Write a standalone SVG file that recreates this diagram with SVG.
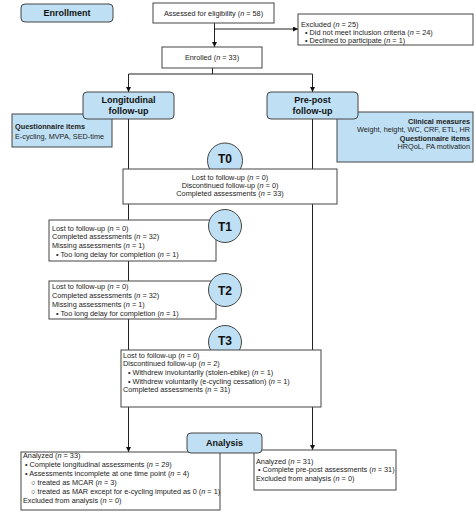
<svg xmlns="http://www.w3.org/2000/svg" width="476" height="515" viewBox="0 0 476 515">
<defs>
<style>
text{font-family:"Liberation Sans",Arial,sans-serif;font-size:7.3px;fill:#222}
.b{font-weight:bold}
.h{font-weight:bold;font-size:9px;fill:#111}
.t{font-weight:bold;font-size:12px;fill:#111}
.box{fill:#fff;stroke:#444;stroke-width:1}
.blue{fill:#bfe0f4;stroke:#444;stroke-width:1}
.ln{fill:none;stroke:#222;stroke-width:1}
.c{text-anchor:middle}
.r{text-anchor:end}
</style>
<marker id="ah" viewBox="0 0 8 8" refX="8" refY="4" markerWidth="5" markerHeight="5" orient="auto" markerUnits="userSpaceOnUse">
<path d="M0,0 L8,4 L0,8 z" fill="#111"/>
</marker>
</defs>
<rect width="476" height="515" fill="#fff"/>

<g id="connectors">
<line class="ln" x1="214.5" y1="23" x2="214.5" y2="47" marker-end="url(#ah)"/>
<line class="ln" x1="214.5" y1="29" x2="298" y2="29" marker-end="url(#ah)"/>
<line class="ln" x1="212.5" y1="68" x2="212.5" y2="74"/>
<line class="ln" x1="128.5" y1="74" x2="312.5" y2="74"/>
<line class="ln" x1="128.5" y1="74" x2="128.5" y2="92" marker-end="url(#ah)"/>
<line class="ln" x1="312.5" y1="74" x2="312.5" y2="92" marker-end="url(#ah)"/>
<line class="ln" x1="128.5" y1="119" x2="128.5" y2="452" marker-end="url(#ah)"/>
<line class="ln" x1="312.5" y1="119" x2="312.5" y2="450" marker-end="url(#ah)"/>
</g>

<g id="enrollment">
<rect class="blue" x="21" y="4" width="92" height="18" rx="4"/>
<text class="h c" x="67" y="16">Enrollment</text>
</g>

<g id="assessed">
<rect class="box" x="153" y="3" width="121" height="20"/>
<text class="c" x="213.5" y="15.5">Assessed for eligibility (<tspan font-style="italic">n</tspan> = 58)</text>
</g>

<g id="excluded">
<rect class="box" x="298" y="14" width="175" height="31"/>
<text x="301" y="26.5">Excluded (<tspan font-style="italic">n</tspan> = 25)</text>
<text x="305" y="35">• Did not meet inclusion criteria (<tspan font-style="italic">n</tspan> = 24)</text>
<text x="305" y="43">• Declined to participate (<tspan font-style="italic">n</tspan> = 1)</text>
</g>

<g id="enrolled">
<rect class="box" x="162" y="47" width="100" height="21"/>
<text class="c" x="212" y="60">Enrolled (<tspan font-style="italic">n</tspan> = 33)</text>
</g>

<g id="questionnaire-left">
<rect class="blue" x="12" y="114" width="100" height="33"/>
<text class="b" x="15" y="129">Questionnaire items</text>
<text x="15" y="138.5">E-cycling, MVPA, SED-time</text>
</g>

<g id="longitudinal">
<rect class="blue" x="83" y="92" width="91" height="27" rx="4"/>
<text class="h c" x="128.5" y="103">Longitudinal</text>
<text class="h c" x="128.5" y="114">follow-up</text>
</g>

<g id="clinical">
<rect class="blue" x="337" y="112" width="136" height="50"/>
<text class="b r" x="470" y="123.5">Clinical measures</text>
<text class="r" x="470" y="132">Weight, height, WC, CRF, ETL, HR</text>
<text class="b r" x="470" y="140.5">Questionnaire items</text>
<text class="r" x="470" y="149">HRQoL, PA motivation</text>
</g>

<g id="prepost">
<rect class="blue" x="267" y="92" width="91" height="27" rx="4"/>
<text class="h c" x="312.5" y="103">Pre-post</text>
<text class="h c" x="312.5" y="114">follow-up</text>
</g>

<g id="t0">
<circle class="blue" cx="225" cy="160.5" r="17.5"/>
<text class="t c" x="225" y="163">T0</text>
<rect class="box" x="123" y="169" width="214" height="35"/>
<text class="c" x="230" y="179.5">Lost to follow-up (<tspan font-style="italic">n</tspan> = 0)</text>
<text class="c" x="230" y="187.5">Discontinued follow-up (<tspan font-style="italic">n</tspan> = 0)</text>
<text class="c" x="230" y="195.5">Completed assessments (<tspan font-style="italic">n</tspan> = 33)</text>
</g>

<g id="t1">
<rect class="box" x="49" y="220" width="167" height="41"/>
<text x="52" y="230.5">Lost to follow-up (<tspan font-style="italic">n</tspan> = 0)</text>
<text x="52" y="239">Completed assessments (<tspan font-style="italic">n</tspan> = 32)</text>
<text x="52" y="247.5">Missing assessments (<tspan font-style="italic">n</tspan> = 1)</text>
<text x="56" y="256.5">• Too long delay for completion (<tspan font-style="italic">n</tspan> = 1)</text>
<circle class="blue" cx="225" cy="226" r="16.5"/>
<text class="t c" x="225" y="230.5">T1</text>
</g>

<g id="t2">
<rect class="box" x="49" y="281" width="167" height="38"/>
<text x="52" y="289">Lost to follow-up (<tspan font-style="italic">n</tspan> = 0)</text>
<text x="52" y="298">Completed assessments (<tspan font-style="italic">n</tspan> = 32)</text>
<text x="52" y="306.5">Missing assessments (<tspan font-style="italic">n</tspan> = 1)</text>
<text x="56" y="315.5">• Too long delay for completion (<tspan font-style="italic">n</tspan> = 1)</text>
<circle class="blue" cx="225" cy="290" r="16.5"/>
<text class="t c" x="225" y="294.5">T2</text>
</g>

<g id="t3">
<circle class="blue" cx="225" cy="342" r="16.5"/>
<text class="t c" x="225" y="345">T3</text>
<rect class="box" x="121" y="350" width="200" height="57"/>
<text x="123" y="357.5">Lost to follow-up (<tspan font-style="italic">n</tspan> = 0)</text>
<text x="123" y="365.5">Discontinued follow-up (<tspan font-style="italic">n</tspan> = 2)</text>
<text x="128" y="374.5">• Withdrew involuntarily (stolen-ebike) (<tspan font-style="italic">n</tspan> = 1)</text>
<text x="128" y="383.5">• Withdrew voluntarily (e-cycling cessation) (<tspan font-style="italic">n</tspan> = 1)</text>
<text x="123" y="392">Completed assessments (<tspan font-style="italic">n</tspan> = 31)</text>
</g>

<g id="analyzed-left">
<rect class="box" x="21" y="452" width="199" height="58"/>
<text x="23" y="457.5">Analyzed (<tspan font-style="italic">n</tspan> = 33)</text>
<text x="25" y="466.5">• Complete longitudinal assessments (<tspan font-style="italic">n</tspan> = 29)</text>
<text x="25" y="475.5">• Assessments incomplete at one time point (<tspan font-style="italic">n</tspan> = 4)</text>
<text x="31" y="484.5">○ treated as MCAR (<tspan font-style="italic">n</tspan> = 3)</text>
<text x="31" y="494">○ treated as MAR except for e-cycling imputed as 0 (<tspan font-style="italic">n</tspan> = 1)</text>
<text x="23" y="503">Excluded from analysis (<tspan font-style="italic">n</tspan> = 0)</text>
</g>

<g id="analyzed-right">
<rect class="box" x="254" y="450" width="142" height="40"/>
<text x="256" y="463.5">Analyzed (<tspan font-style="italic">n</tspan> = 31)</text>
<text x="258" y="472">• Complete pre-post assessments (<tspan font-style="italic">n</tspan> = 31)</text>
<text x="256" y="481">Excluded from analysis (<tspan font-style="italic">n</tspan> = 0)</text>
</g>

<g id="analysis">
<rect class="blue" x="187" y="433" width="75" height="20" rx="4"/>
<text class="h c" x="224.5" y="446">Analysis</text>
</g>
</svg>
